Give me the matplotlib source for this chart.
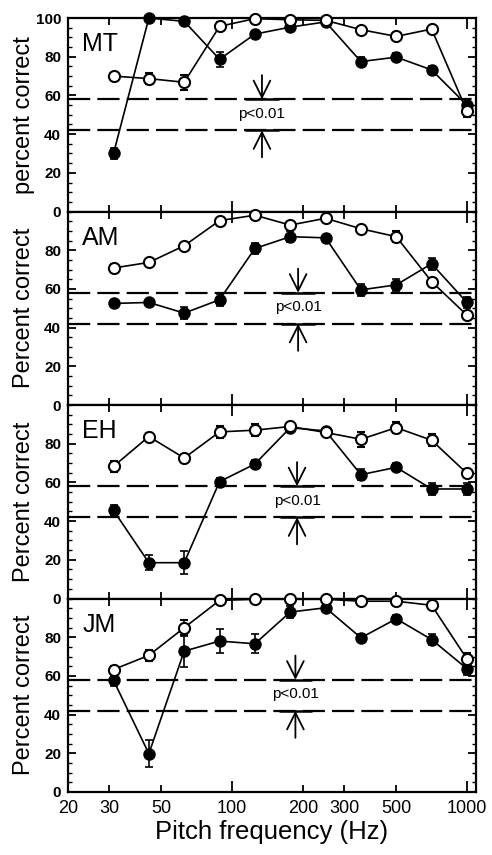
import matplotlib
matplotlib.use("Agg")
import matplotlib.pyplot as plt

plt.rcParams["font.family"] = ["Liberation Sans", "DejaVu Sans"]

# ── data ────────────────────────────────────────────────────────────────
freqs = [31.25, 44.2, 62.5, 88.4, 125, 176.8, 250, 353.6, 500, 707.1, 1000]

subjects = ["MT", "AM", "EH", "JM"]
ylabels = ["percent correct", "Percent correct", "Percent correct", "Percent correct"]

mt_filled = [30, 100, 98.3, 78.7, 91.7, 95.3, 98, 77.5, 79.8, 73.2, 55]
mt_filled_err = [3, 0, 0, 4, 0, 0, 0, 2.5, 2, 2, 3]
mt_open = [70, 68.7, 66.8, 95.7, 99.7, 99.1, 98.8, 94, 90.5, 94.3, 51.9]
mt_open_err = [0, 3, 4, 2, 0, 0, 0, 0, 0, 0, 3]

am_filled = [52.5, 53, 47.5, 54.4, 80.9, 87, 86.4, 59.5, 62.1, 73, 53]
am_filled_err = [2, 0, 3, 3, 3, 3, 0, 3, 3, 3, 3]
am_open = [70.8, 73.7, 82.3, 95.3, 98.1, 93, 96.5, 91.1, 87, 63.8, 46.4]
am_open_err = [2, 0, 0, 0, 0, 0, 0, 0, 3, 0, 2]

eh_filled = [45.5, 18.5, 18.5, 60.4, 69.5, 88.3, 86.6, 64, 67.8, 56.6, 56.6]
eh_filled_err = [3, 4, 6, 2, 2, 2, 0, 3, 2, 3, 3]
eh_open = [68.3, 83.7, 72.6, 86.1, 87, 88.9, 85.8, 82.3, 88.3, 81.8, 64.7]
eh_open_err = [3, 2, 0, 3, 3, 2, 2, 4, 3, 3, 2]

jm_filled = [57.7, 19.8, 72.8, 78, 76.6, 93, 95.2, 79.7, 89.5, 78.8, 63.7]
jm_filled_err = [3, 7, 8, 6, 5, 3, 2, 2, 2, 3, 3]
jm_open = [63.3, 70.6, 84.9, 99, 99.6, 99.6, 99.6, 98.6, 98.6, 96.5, 68.8]
jm_open_err = [2, 3, 4, 0, 0, 0, 0, 0, 0, 0, 3]

filled_series = [mt_filled, am_filled, eh_filled, jm_filled]
filled_errs = [mt_filled_err, am_filled_err, eh_filled_err, jm_filled_err]
open_series = [mt_open, am_open, eh_open, jm_open]
open_errs = [mt_open_err, am_open_err, eh_open_err, jm_open_err]

# significance band (p<0.01) and where the arrows sit
chance_hi = 58
chance_lo = 42
arrow_x = [134, 191, 189, 186]


def unclip(container):
    for art in container.get_children():
        art.set_clip_on(False)


# ── figure ──────────────────────────────────────────────────────────────
fig, axes = plt.subplots(4, 1, sharex=True, figsize=(4.92, 8.55), dpi=100)
fig.subplots_adjust(left=0.1382, right=0.9675, top=0.9789, bottom=0.0737, hspace=0)

for i, ax in enumerate(axes):
    ax.set_xscale("log")
    ax.set_xlim(20, 1093)
    ax.set_ylim(0, 100)

    # chance band
    for yv in (chance_hi, chance_lo):
        ax.axhline(yv, color="black", lw=1.6, dashes=(10, 3.2), zorder=1)
        ax.plot([arrow_x[i] / 1.18, arrow_x[i] * 1.18], [yv, yv],
                color="black", lw=1.8, solid_capstyle="butt", zorder=1)
    ax.annotate("", xy=(arrow_x[i], chance_hi), xytext=(arrow_x[i], 70.5),
                arrowprops=dict(arrowstyle="->,head_length=0.6,head_width=0.3",
                                lw=1.3, color="black", mutation_scale=20,
                                shrinkA=0, shrinkB=0))
    ax.annotate("", xy=(arrow_x[i], chance_lo), xytext=(arrow_x[i], 28),
                arrowprops=dict(arrowstyle="->,head_length=0.6,head_width=0.3",
                                lw=1.3, color="black", mutation_scale=20,
                                shrinkA=0, shrinkB=0))
    ax.text(arrow_x[i], 50.5, "p<0.01", ha="center", va="center", fontsize=11)

    eb = ax.errorbar(freqs, filled_series[i], yerr=filled_errs[i], color="black",
                     marker="o", ms=8, mfc="black", mec="black", lw=1.2,
                     elinewidth=1.2, capsize=3, capthick=1.2, zorder=3)
    unclip(eb)
    eb = ax.errorbar(freqs, open_series[i], yerr=open_errs[i], color="black",
                     marker="o", ms=8, mfc="white", mec="black", mew=1.5, lw=1.2,
                     elinewidth=1.2, capsize=3, capthick=1.2, zorder=4)
    unclip(eb)

    ax.text(0.035, 0.865, subjects[i], transform=ax.transAxes, fontsize=18,
            ha="left", va="center")

    ax.set_ylabel(ylabels[i], fontsize=17)
    ax.yaxis.set_label_coords(-0.08, 0.5)

    if i == 0:
        ax.set_yticks([0, 20, 40, 60, 80, 100])
    else:
        ax.set_yticks([0, 20, 40, 60, 80])
    ax.set_yticks(range(0, 101, 5), minor=True)
    ax.tick_params(axis="y", which="both", direction="in", left=True, right=True,
                   labelsize=11, pad=5)
    ax.tick_params(axis="y", which="major", length=6, width=1.3)
    ax.tick_params(axis="y", which="minor", length=3, width=1.0)
    for lab in ax.get_yticklabels():
        lab.set_fontweight("bold")

    for sp in ax.spines.values():
        sp.set_linewidth(1.6)

bottom = axes[-1]
bottom.set_xticks([100, 1000])
bottom.set_xticklabels(["100", "1000"])
bottom.set_xticks([20, 30, 50, 200, 300, 500], minor=True)
bottom.set_xticklabels(["20", "30", "50", "200", "300", "500"], minor=True)
for ax in axes:
    ax.tick_params(axis="x", which="both", direction="in", top=True, bottom=True,
                   labelsize=13, pad=6)
    ax.tick_params(axis="x", which="major", length=8, width=1.3)
    ax.tick_params(axis="x", which="minor", length=5, width=1.3)
for ax in axes[:-1]:
    ax.tick_params(axis="x", which="both", labelbottom=False)

bottom.set_xlabel("Pitch frequency (Hz)", fontsize=18.5, labelpad=2)

fig.savefig("out.png", dpi=100)
